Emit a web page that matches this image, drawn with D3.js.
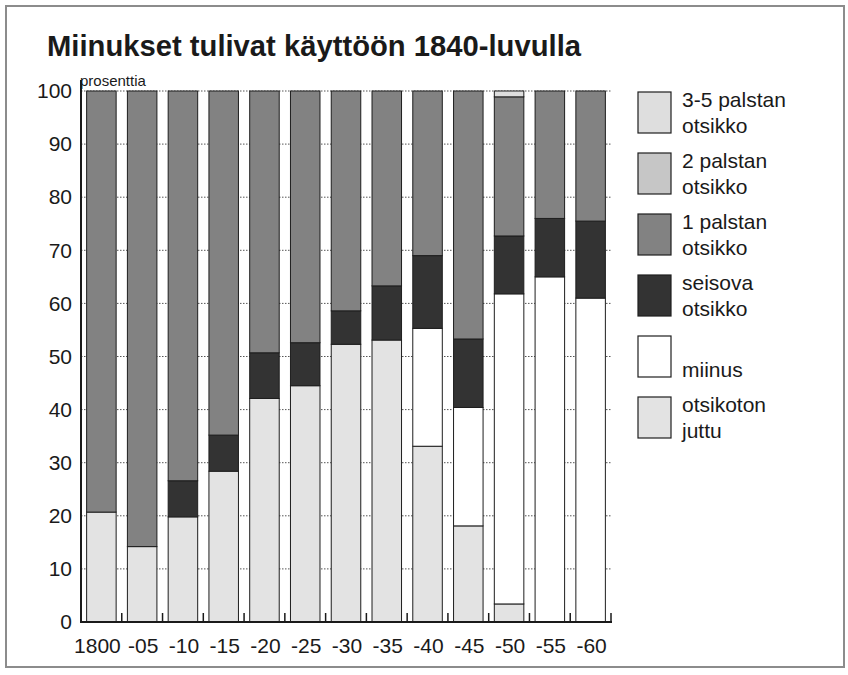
<!DOCTYPE html>
<html>
<head>
<meta charset="utf-8">
<script src="https://cdn.jsdelivr.net/npm/d3@7"></script>
<style>
  body { margin: 0; background: #fff; }
  text { font-family: "Liberation Sans", Arial, sans-serif; fill: #1a1a1a; }
</style>
</head>
<body>
<div id="root"></div>
<script>
// Data (percent of stories per period)
const years = ["1800", "-05", "-10", "-15", "-20", "-25", "-30", "-35", "-40", "-45", "-50", "-55", "-60"];
const otsikoton = [20.7, 14.2, 19.8, 28.4, 42.1, 44.5, 52.3, 53.1, 33.1, 18.1, 3.4, 0, 0];
const miinus    = [0, 0, 0, 0, 0, 0, 0, 0, 22.2, 22.3, 58.4, 65.0, 61.0];
const seisova   = [0, 0, 6.8, 6.8, 8.6, 8.1, 6.3, 10.2, 13.7, 12.9, 10.9, 11.0, 14.5];
const palsta1   = [79.3, 85.8, 73.4, 64.8, 49.3, 47.4, 41.4, 36.7, 31.0, 46.7, 26.2, 24.0, 24.5];
const palsta2   = [0, 0, 0, 0, 0, 0, 0, 0, 0, 0, 0, 0, 0];
const palsta35  = [0, 0, 0, 0, 0, 0, 0, 0, 0, 0, 1.1, 0, 0];
const yTicks = [0, 10, 20, 30, 40, 50, 60, 70, 80, 90, 100];

// series, bottom to top
const keys = ["otsikoton", "miinus", "seisova", "palsta1", "palsta2", "palsta35"];
const seriesValues = { otsikoton, miinus, seisova, palsta1, palsta2, palsta35 };
const colors = {
  otsikoton: "#e3e3e3", miinus: "#ffffff", seisova: "#333333",
  palsta1: "#828282", palsta2: "#c6c6c6", palsta35: "#dedede"
};
// legend, top to bottom
const legendItems = [
  { key: "palsta35", lines: ["3-5 palstan", "otsikko"] },
  { key: "palsta2", lines: ["2 palstan", "otsikko"] },
  { key: "palsta1", lines: ["1 palstan", "otsikko"] },
  { key: "seisova", lines: ["seisova", "otsikko"] },
  { key: "miinus", lines: ["", "miinus"] },
  { key: "otsikoton", lines: ["otsikoton", "juttu"] }
];

const table = years.map((y, i) => {
  const row = { year: y };
  keys.forEach(k => row[k] = seriesValues[k][i]);
  return row;
});

const width = 848, height = 675;
const svg = d3.select("#root").append("svg")
  .attr("width", width).attr("height", height);

// frame
svg.append("rect")
  .attr("x", 6).attr("y", 6).attr("width", 838).attr("height", 661)
  .attr("fill", "none").attr("stroke", "#8c8c8c").attr("stroke-width", 2);

// title
svg.append("text")
  .attr("x", 47).attr("y", 56)
  .attr("textLength", 534).attr("lengthAdjust", "spacingAndGlyphs")
  .style("font-size", "29px").style("font-weight", "bold")
  .text("Miinukset tulivat käyttöön 1840-luvulla");

const x = d3.scaleBand().domain(years).range([81, 611])
  .paddingInner(0.276).paddingOuter(0.138);
const y = d3.scaleLinear().domain([0, 100]).range([622, 91]);

// grid lines
svg.append("g").selectAll("line").data(yTicks.filter(d => d > 0)).join("line")
  .attr("x1", 81).attr("x2", 611)
  .attr("y1", d => y(d)).attr("y2", d => y(d))
  .attr("stroke", "#555").attr("stroke-width", 1).attr("stroke-dasharray", "1.5,1.5");

// stacked bars
const stacked = d3.stack().keys(keys)(table);
svg.append("g").selectAll("g").data(stacked).join("g")
  .attr("fill", d => colors[d.key])
  .selectAll("rect").data(d => d.filter(s => s[1] - s[0] > 0)).join("rect")
    .attr("x", d => x(d.data.year))
    .attr("width", x.bandwidth())
    .attr("y", d => y(d[1]))
    .attr("height", d => y(d[0]) - y(d[1]))
    .attr("stroke", "#1e1e1e").attr("stroke-width", 1);

// y axis
const yAxis = svg.append("g").attr("transform", "translate(81,0)")
  .call(d3.axisLeft(y).tickValues(yTicks).tickSize(0).tickPadding(9));
yAxis.select(".domain").remove();
yAxis.selectAll("text").style("font-size", "21px").style("font-family", "Liberation Sans, Arial, sans-serif").attr("fill", "#1a1a1a");
svg.append("line").attr("x1", 81).attr("x2", 81).attr("y1", 80).attr("y2", 623)
  .attr("stroke", "#1a1a1a").attr("stroke-width", 2);

svg.append("text").attr("x", 80).attr("y", 86)
  .style("font-size", "15px").text("prosenttia");

// x axis
const xAxis = svg.append("g").attr("transform", "translate(0,622)")
  .call(d3.axisBottom(x).tickSize(0).tickPadding(16));
xAxis.select(".domain").remove();
xAxis.selectAll("text").style("font-size", "21px").style("font-family", "Liberation Sans, Arial, sans-serif").attr("fill", "#1a1a1a")
  .attr("dx", (d, i) => i === 0 ? -4 : 1);
svg.append("line").attr("x1", 80).attr("x2", 612).attr("y1", 622).attr("y2", 622)
  .attr("stroke", "#1a1a1a").attr("stroke-width", 2);

// small tick marks in the gaps between bars
const gapTicks = years.map(d => x(d) + x.bandwidth() + x.step() * x.paddingInner() / 2);
svg.append("g").selectAll("line").data(gapTicks).join("line")
  .attr("x1", d => d).attr("x2", d => d)
  .attr("y1", 622).attr("y2", 613)
  .attr("stroke", "#1a1a1a").attr("stroke-width", 1.5);

// legend
const legend = svg.append("g").selectAll("g").data(legendItems).join("g")
  .attr("transform", (d, i) => `translate(638, ${92 + i * 61})`);
legend.append("rect")
  .attr("width", 33).attr("height", 41)
  .attr("fill", d => colors[d.key])
  .attr("stroke", "#1e1e1e").attr("stroke-width", 1.2);
legend.append("text").attr("x", 44).attr("y", 15)
  .style("font-size", "21px").text(d => d.lines[0]);
legend.append("text").attr("x", 44).attr("y", 41)
  .style("font-size", "21px").text(d => d.lines[1]);
</script>
</body>
</html>
